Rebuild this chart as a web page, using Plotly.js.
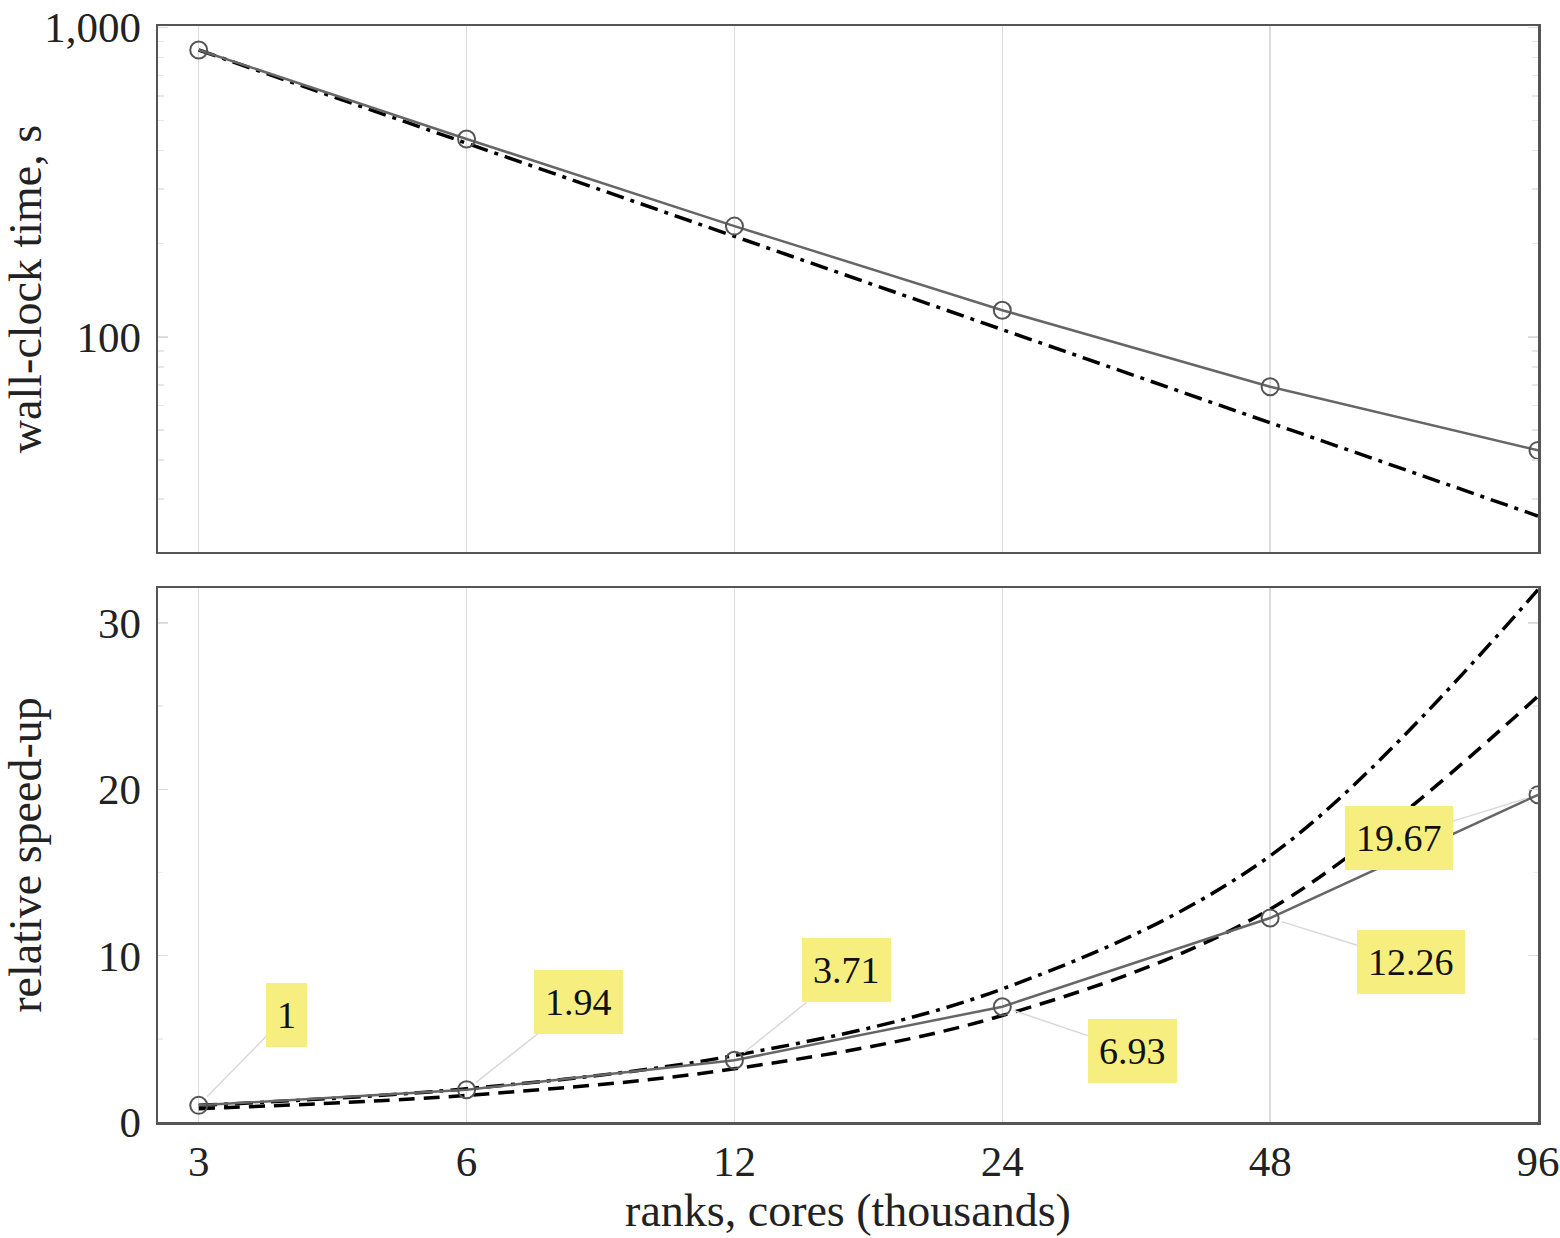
<!DOCTYPE html>
<html>
<head>
<meta charset="utf-8">
<script src="https://cdn.plot.ly/plotly-3.0.1.min.js"></script>
<style>
  html, body { margin: 0; padding: 0; background: #fff; }
  #chart { width: 1560px; height: 1238px; }
</style>
</head>
<body>
<div id="chart"></div>
<script>
// ranks in thousands of cores
const ranks = [3, 6, 12, 24, 48, 96];
const wallTime = [845, 436, 228, 122, 69, 43];
const idealTime = [845, 422.5, 211.3, 105.6, 52.8, 26.4];
const speedup = [1, 1.94, 3.71, 6.93, 12.26, 19.67];
const idealSpeedup = [1, 2, 4, 8, 16, 32];
const fitSpeedup = [0.8, 1.6, 3.2, 6.4, 12.8, 25.6];
const speedupLabels = ['1', '1.94', '3.71', '6.93', '12.26', '19.67'];
// label offsets (px) from the point
const labelDx = [88, 112, 112, 130, 141, -139];
const labelDy = [-90, -88, -90, 44, 44, 43];

const serif = 'Liberation Serif, DejaVu Serif, serif';
const frameColor = '#555';
const gridColor = '#dcdcdc';

const measured = {
  type: 'scatter',
  mode: 'lines+markers',
  line: { color: '#666', width: 2.5 },
  marker: { symbol: 'circle-open', size: 17, color: '#555', line: { width: 2, color: '#555' } },
};

const data = [
  {
    x: ranks, y: idealTime, xaxis: 'x2', yaxis: 'y2',
    type: 'scatter', mode: 'lines',
    line: { color: '#000', width: 3.5, dash: '18px,7px,4px,7px' },
  },
  { ...measured, x: ranks, y: wallTime, xaxis: 'x2', yaxis: 'y2' },
  {
    x: ranks, y: idealSpeedup, xaxis: 'x', yaxis: 'y',
    type: 'scatter', mode: 'lines',
    line: { color: '#000', width: 3.5, dash: '18px,7px,4px,7px', shape: 'spline', smoothing: 1 },
  },
  {
    x: ranks, y: fitSpeedup, xaxis: 'x', yaxis: 'y',
    type: 'scatter', mode: 'lines',
    line: { color: '#000', width: 3.5, dash: '16px,9px', shape: 'spline', smoothing: 1 },
  },
  { ...measured, x: ranks, y: speedup, xaxis: 'x', yaxis: 'y' },
];

const annotations = ranks.map((r, i) => ({
  x: Math.log10(r), y: speedup[i], xref: 'x', yref: 'y',
  text: speedupLabels[i],
  showarrow: true, arrowhead: 0, arrowwidth: 1.5, arrowcolor: '#d8d8d8',
  standoff: 12,
  ax: labelDx[i], ay: labelDy[i],
  bgcolor: '#f6ef80', borderpad: 11, borderwidth: 0,
  font: { family: serif, size: 38, color: '#111' },
}));

const tickFont = { family: serif, size: 43, color: '#222' };
const titleFont = { family: serif, size: 46, color: '#222' };
const xRange = [Math.log10(2.7), Math.log10(96)];

const layout = {
  width: 1560,
  height: 1238,
  margin: { l: 158, r: 22, t: 26, b: 116 },
  paper_bgcolor: '#fff',
  plot_bgcolor: '#fff',
  showlegend: false,
  font: { family: serif, color: '#222' },
  annotations,
  xaxis: {
    type: 'log', range: xRange, anchor: 'y',
    tickvals: ranks, ticktext: ranks.map(String),
    tickfont: tickFont, ticks: '', showgrid: true, gridcolor: gridColor, gridwidth: 1.5,
    ticklabeloverflow: 'allow',
    showline: true, linecolor: frameColor, linewidth: 2.5, mirror: true,
    zeroline: false,
    title: { text: 'ranks, cores (thousands)', font: titleFont, standoff: 10 },
  },
  xaxis2: {
    type: 'log', range: xRange, anchor: 'y2', matches: 'x',
    tickvals: ranks, showticklabels: false, ticks: '',
    showgrid: true, gridcolor: gridColor, gridwidth: 1.5,
    showline: true, linecolor: frameColor, linewidth: 2.5, mirror: true,
  },
  yaxis: {
    domain: [0, 0.4872], anchor: 'x',
    range: [0, 32.1],
    tickvals: [0, 10, 20, 30], ticks: 'inside', ticklen: 10, tickcolor: '#ddd', tickwidth: 1.5,
    tickfont: tickFont, ticklabelstandoff: 6, showgrid: false, zeroline: false,
    showline: true, linecolor: frameColor, linewidth: 2.5, mirror: 'allticks',
    minor: { tickvals: [5, 15, 25], ticks: 'inside', ticklen: 5, tickcolor: '#eee' },
    title: { text: 'relative speed-up', font: titleFont, standoff: 50 },
  },
  yaxis2: {
    domain: [0.5201, 1], anchor: 'x2', type: 'log',
    range: [Math.log10(20.2), Math.log10(1010)],
    tickvals: [100, 1000], ticktext: ['100', '1,000'],
    ticks: 'inside', ticklen: 10, tickcolor: '#ddd', tickwidth: 1.5,
    tickfont: tickFont, ticklabelstandoff: 6, ticklabeloverflow: 'allow',
    showgrid: false, zeroline: false,
    showline: true, linecolor: frameColor, linewidth: 2.5, mirror: 'allticks',
    minor: {
      tickvals: [30, 40, 50, 60, 70, 80, 90, 200, 300, 400, 500, 600, 700, 800, 900],
      ticks: 'inside', ticklen: 6, tickcolor: '#e6e6e6',
    },
    title: { text: 'wall-clock time, s', font: titleFont, standoff: 4 },
  },
};

Plotly.newPlot('chart', data, layout, { displayModeBar: false, staticPlot: true });
</script>
</body>
</html>
